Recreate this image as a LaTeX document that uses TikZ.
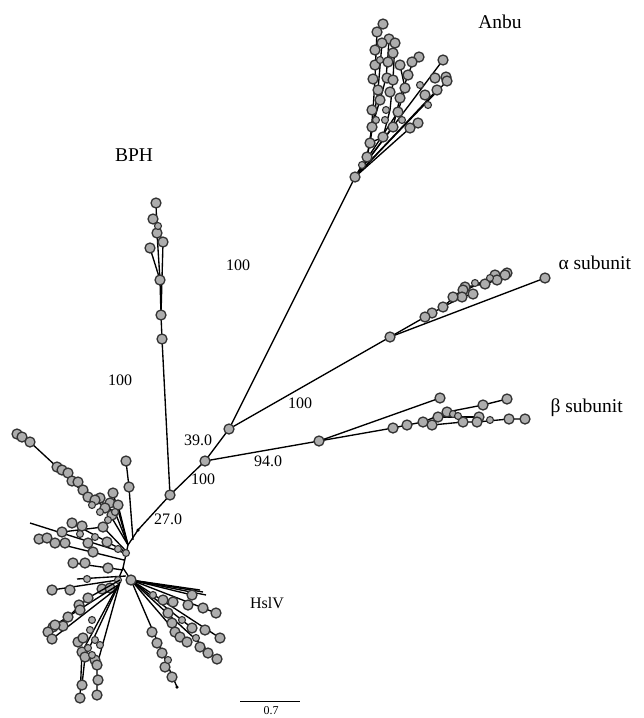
\documentclass[tikz,border=0pt]{standalone}
\usepackage{fontspec}
\setmainfont{Liberation Serif}
\begin{document}
\begin{tikzpicture}[x=1pt,y=-1pt,
  br/.style={line width=1.35pt, black},
  lf/.style={circle, draw=black!80, fill=black!32, line width=1.3pt, inner sep=0pt, minimum size=10pt},
  sm/.style={circle, draw=black!80, fill=black!32, line width=1.1pt, inner sep=0pt, minimum size=7pt},
  dt/.style={circle, fill=black, inner sep=0pt, minimum size=3.5pt},
  lbl/.style={font=\fontsize{19.5}{21}\selectfont},
  num/.style={font=\fontsize{16}{18}\selectfont}]
\useasboundingbox[fill=white] (0,0) rectangle (644,718);

% backbone coordinates
\coordinate (root) at (138,530);
\coordinate (n27) at (170,495);
\coordinate (n100) at (205,461);
\coordinate (n39) at (229,429);
\coordinate (nbeta) at (319,441);
\coordinate (nalpha) at (390,337);
\coordinate (nanbu) at (355,177);
\coordinate (nbph) at (162,339);
\coordinate (h1) at (128,545);
\coordinate (h2) at (123,568);
\coordinate (hc) at (131,580);

% backbone edges
\draw[br] (root) -- (n27) -- (n100) -- (n39) -- (nanbu);
\draw[br] (n39) -- (nalpha);
\draw[br] (n100) -- (nbeta);
\draw[br] (n27) -- (nbph);
\draw[br] (root) -- (h1) -- (h2) -- (hc);

% ---- Anbu cluster
\draw[br] (nanbu) -- (367,157) -- (370,143) -- (373,110) -- (375,80) -- (376,52) -- (377,33) -- (383,24);
\draw[br] (367,157) -- (372,127) -- (380,100) -- (386,78) -- (388,55) -- (389,39);
\draw[br] (370,143) -- (383,137) -- (390,110) -- (393,80) -- (394,60) -- (395,43);
\draw[br] (370,143) -- (378,90) -- (382,43);
\draw[br] (nanbu) -- (393,127) -- (400,98) -- (408,75) -- (413,62) -- (419,57);
\draw[br] (nanbu) -- (410,128) -- (418,123);
\draw[br] (nanbu) -- (443,60);
\draw[br] (nanbu) -- (447,81);
\draw[br] (nanbu) -- (437,90);
\draw[br] (nanbu) -- (398,112) -- (405,88) -- (400,65);
\foreach \x/\y in {383/24,377/32,389/39,395/43,382/43,375/50,393/53,419/57,412/62,443/60,446/77,447/81,435/78,437/90,373/79,387/78,393/80,408/75,390/92,400/98,418/123,410/128,393/127,383/137,372/127,370/143,367/157,375/65,380/100,398/112,405/88,425/95,378/90,372/110,400/65,388/62}
  \node[lf] at (\x,\y) {};
\foreach \x/\y in {386/110,420/85,428/105,380/60,362/165,376/120,385/120,402/120}
  \node[sm] at (\x,\y) {};

% ---- BPH cluster
\draw[br] (nbph) -- (161,315) -- (160,280) -- (157,233) -- (156,203);
\draw[br] (160,280) -- (150,248);
\draw[br] (161,315) -- (163,242) -- (153,219);
\foreach \x/\y in {161/315,160/280,150/248,163/242,157/233,153/219,156/203}
  \node[lf] at (\x,\y) {};
\node[sm] at (158,226) {};

% ---- alpha cluster
\draw[br] (nalpha) -- (545,278);
\draw[br] (nalpha) -- (425,317) -- (443,307) -- (462,297) -- (473,294);
\draw[br] (443,307) -- (465,287) -- (485,284) -- (497,280) -- (507,273);
\draw[br] (453,297) -- (495,275) -- (505,275);
\foreach \x/\y in {545/278,507/273,505/275,495/275,497/280,485/284,473/294,465/287,463/290,462/297,453/297,443/307,432/313,425/317}
  \node[lf] at (\x,\y) {};
\foreach \x/\y in {475/283,490/278}
  \node[sm] at (\x,\y) {};

% ---- beta cluster
\draw[br] (nbeta) -- (440,398);
\draw[br] (nbeta) -- (393,428) -- (407,425) -- (423,422) -- (447,412) -- (483,405) -- (507,399);
\draw[br] (423,422) -- (432,425) -- (463,422) -- (477,422) -- (509,419) -- (525,419);
\draw[br] (438,417) -- (479,417);
\foreach \x/\y in {440/398,507/399,483/405,447/412,438/417,479/417,477/422,463/422,432/425,423/422,407/425,393/428,509/419,525/419}
  \node[lf] at (\x,\y) {};
\foreach \x/\y in {453/414,458/416,490/420}
  \node[sm] at (\x,\y) {};

% ---- HslV: upper left
\draw[br] (h1) -- (115,512) -- (88,497) -- (57,467) -- (30,442) -- (17,434);
\draw[br] (h1) -- (113,493);
\draw[br] (h1) -- (118,505);
\draw[br] (h1) -- (100,498);
\draw[br] (133,540) -- (129,487) -- (126,461);
\foreach \x/\y in {17/434,22/437,30/442,57/467,62/470,68/473,72/481,78/482,83/490,88/497,100/498,110/503,113/493,118/505,105/508,95/500,129/487,126/461,112/515}
  \node[lf] at (\x,\y) {};
\foreach \x/\y in {115/512,92/505,100/512,108/520}
  \node[sm] at (\x,\y) {};
% left branches
\draw[br] (30,523) -- (125,553);
\draw[br] (39,539) -- (124,560);
\draw[br] (72,523) -- (126,552);
\draw[br] (62,532) -- (103,527) -- (125,550);
\draw[br] (73,563) -- (123,570);
\draw[br] (77,579) -- (126,576);
\draw[br] (52,590) -- (118,580) -- (h2);
\foreach \x/\y in {72/523,82/526,103/527,62/532,39/539,47/538,55/543,65/543,88/543,93/552,107/542,73/563,85/563,108/568,52/590,70/590,102/589,110/588}
  \node[lf] at (\x,\y) {};
\foreach \x/\y in {118/549,126/553,118/580,87/579,80/534,95/537}
  \node[sm] at (\x,\y) {};
\node[dt] at (root) {};
% lower left branches
\draw[br] (120,580) -- (88,598) -- (68,617) -- (48,632);
\draw[br] (118,585) -- (55,625);
\draw[br] (115,590) -- (52,639);
\draw[br] (120,582) -- (97,665) -- (97,695);
\draw[br] (118,585) -- (82,652) -- (80,698);
\draw[br] (119,584) -- (85,657) -- (82,685);
\foreach \x/\y in {88/598,79/605,68/617,63/626,53/627,48/632,52/639,55/625,80/610,78/642,83/638,82/652,85/657,95/660,97/665,98/680,97/695,82/685,80/698}
  \node[lf] at (\x,\y) {};
\foreach \x/\y in {90/630,95/640,92/620,100/645,88/648,92/655}
  \node[sm] at (\x,\y) {};
% right group
\draw[br] (hc) -- (203,592);
\draw[br] (hc) -- (200,590);
\draw[br] (hc) -- (206,595);
\draw[br] (hc) -- (192,595);
\draw[br] (hc) -- (216,613);
\draw[br] (hc) -- (220,638);
\draw[br] (hc) -- (217,659);
\draw[br] (hc) -- (177,687);
\draw[br] (hc) -- (180,637);
\draw[br] (hc) -- (192,628);
\foreach \x/\y in {192/595,216/613,173/602,163/600,188/605,203/608,168/613,172/623,175/632,180/637,187/642,220/638,205/630,192/628,200/647,208/653,217/659,152/632,157/643,162/653,165/667,172/677}
  \node[lf] at (\x,\y) {};
\foreach \x/\y in {153/595,182/620,196/638,168/660}
  \node[sm] at (\x,\y) {};
\node[dt] at (177,687) {};

% backbone circles
\foreach \p in {n27,n100,n39,nbeta,nalpha,nanbu,nbph,hc}
  \node[lf] at (\p) {};

% labels
\node[lbl] (tAnbu) at (500,22) {Anbu};
\node[lbl] (tBPH) at (134,155) {BPH};
\node[lbl,anchor=west] (tAlpha) at (555,263) {α subunit};
\node[lbl,anchor=west] (tBeta) at (547,408) {β subunit};
\node[num] (tHslV) at (267,603) {HslV};
\node[num] (l1) at (120,380) {100};
\node[num] (l2) at (238,265) {100};
\node[num] (l3) at (300,403) {100};
\node[num] (l4) at (198,440) {39.0};
\node[num] (l5) at (203,479) {100};
\node[num] (l6) at (268,461) {94.0};
\node[num] (l7) at (168,519) {27.0};
% scale bar
\coordinate (s1) at (240,701);
\coordinate (s2) at (300,701);
\draw[line width=1pt] (s1) -- (s2);
\node[font=\fontsize{12}{13}\selectfont, inner sep=1pt] (tscale) at (271,711) {0.7};
\end{tikzpicture}
\end{document}
